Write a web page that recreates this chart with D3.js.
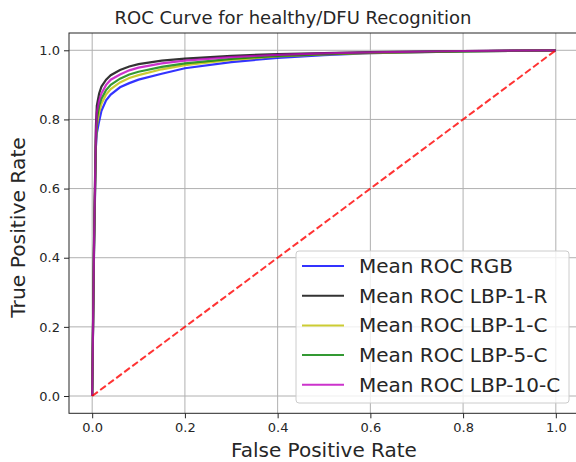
<!DOCTYPE html>
<html>
<head>
<meta charset="utf-8">
<script src="https://cdn.jsdelivr.net/npm/d3@7"></script>
<style>
  body { margin: 0; background: #fff; }
  svg { display: block; font-family: "DejaVu Sans", sans-serif; }
</style>
</head>
<body>
<svg id="chart" width="576" height="462"></svg>
<script>
// false positive rate grid shared by every curve
const fpr = [0, 0.004, 0.008, 0.01, 0.015, 0.02, 0.03, 0.04, 0.06, 0.08, 0.1, 0.15, 0.2, 0.3, 0.4, 0.5, 0.6, 0.8, 1.0]

const tprRGB    = [0, 0.42, 0.72, 0.76, 0.795, 0.825, 0.855, 0.872, 0.893, 0.905, 0.915, 0.932, 0.948, 0.966, 0.978, 0.986, 0.992, 0.997, 1]
const tprLBP1R  = [0, 0.45, 0.78, 0.84, 0.875, 0.895, 0.915, 0.928, 0.943, 0.953, 0.960, 0.970, 0.976, 0.984, 0.989, 0.992, 0.995, 0.998, 1]
const tprLBP1C  = [0, 0.43, 0.73, 0.78, 0.82, 0.845, 0.872, 0.888, 0.907, 0.92, 0.928, 0.945, 0.957, 0.972, 0.982, 0.988, 0.992, 0.997, 1]
const tprLBP5C  = [0, 0.43, 0.74, 0.80, 0.84, 0.86, 0.885, 0.90, 0.918, 0.93, 0.938, 0.952, 0.962, 0.975, 0.984, 0.989, 0.993, 0.997, 1]
const tprLBP10C = [0, 0.44, 0.76, 0.82, 0.855, 0.875, 0.90, 0.915, 0.930, 0.942, 0.950, 0.962, 0.970, 0.980, 0.987, 0.991, 0.994, 0.998, 1]

const seriesNames = ["Mean ROC RGB", "Mean ROC LBP-1-R", "Mean ROC LBP-1-C", "Mean ROC LBP-5-C", "Mean ROC LBP-10-C"]
const seriesColors = ["#0000ff", "#000000", "#bfbf00", "#008000", "#bf00bf"]
const seriesValues = [tprRGB, tprLBP1R, tprLBP1C, tprLBP5C, tprLBP10C]

const tickValues = [0, 0.2, 0.4, 0.6, 0.8, 1.0]
const chanceLine = [0, 1]

const margin = { left: 69, top: 33, right: 579, bottom: 413.3 }

const x = d3.scaleLinear().domain([-0.05, 1.05]).range([margin.left, margin.right])
const y = d3.scaleLinear().domain([-0.05, 1.05]).range([margin.bottom, margin.top])

const svg = d3.select("#chart")

// grid
const grid = svg.append("g")
grid.selectAll(".gx")
    .data(tickValues)
    .join("line")
    .attr("x1", d => x(d)).attr("x2", d => x(d))
    .attr("y1", margin.top).attr("y2", margin.bottom)
    .attr("stroke", "#b0b0b0").attr("stroke-width", 1)
grid.selectAll(".gy")
    .data(tickValues)
    .join("line")
    .attr("y1", d => y(d)).attr("y2", d => y(d))
    .attr("x1", margin.left).attr("x2", margin.right)
    .attr("stroke", "#b0b0b0").attr("stroke-width", 1)

// axes
svg.append("g")
    .attr("transform", `translate(0,${margin.bottom})`)
    .call(d3.axisBottom(x).tickValues(tickValues).tickFormat(d3.format(".1f")).tickSizeOuter(0).tickSize(5).tickPadding(4))
svg.append("g")
    .attr("transform", `translate(${margin.left},0)`)
    .call(d3.axisLeft(y).tickValues(tickValues).tickFormat(d3.format(".1f")).tickSizeOuter(0).tickSize(5).tickPadding(4))
svg.selectAll(".domain").remove()
svg.selectAll(".tick text").attr("font-size", 13).attr("fill", "#262626").attr("font-family", "DejaVu Sans")
svg.selectAll(".tick line").attr("stroke", "#262626")

const line = d3.line()
    .x(d => x(d[0]))
    .y(d => y(d[1]))

// curves
seriesValues.forEach((vals, i) => {
    svg.append("path")
        .datum(fpr.map((f, j) => [f, vals[j]]))
        .attr("d", line)
        .attr("fill", "none")
        .attr("stroke", seriesColors[i])
        .attr("stroke-opacity", 0.8)
        .attr("stroke-width", 2.2)
})

// chance line
svg.append("path")
    .datum(chanceLine.map(d => [d, d]))
    .attr("d", line)
    .attr("fill", "none")
    .attr("stroke", "#ff0000")
    .attr("stroke-opacity", 0.8)
    .attr("stroke-width", 2)
    .attr("stroke-dasharray", "7,3")

// frame
svg.append("rect")
    .attr("x", margin.left).attr("y", margin.top)
    .attr("width", margin.right - margin.left).attr("height", margin.bottom - margin.top)
    .attr("fill", "none").attr("stroke", "#262626").attr("stroke-width", 1)

// title and labels
svg.append("text")
    .attr("x", 293).attr("y", 24)
    .attr("text-anchor", "middle")
    .attr("font-size", 18).attr("fill", "#262626")
    .text("ROC Curve for healthy/DFU Recognition")
svg.append("text")
    .attr("x", 324).attr("y", 457)
    .attr("text-anchor", "middle")
    .attr("font-size", 20).attr("fill", "#262626")
    .text("False Positive Rate")
svg.append("text")
    .attr("transform", "translate(25,227.5) rotate(-90)")
    .attr("text-anchor", "middle")
    .attr("font-size", 20.3).attr("fill", "#262626")
    .text("True Positive Rate")

// legend
const legend = svg.append("g")
legend.append("rect")
    .attr("x", 296).attr("y", 251)
    .attr("width", 273).attr("height", 152)
    .attr("rx", 3)
    .attr("fill", "#ffffff").attr("fill-opacity", 0.8)
    .attr("stroke", "#cccccc")
seriesNames.forEach((name, i) => {
    const ly = 266 + i * 29.7
    legend.append("line")
        .attr("x1", 302).attr("x2", 344)
        .attr("y1", ly).attr("y2", ly)
        .attr("stroke", seriesColors[i]).attr("stroke-opacity", 0.8).attr("stroke-width", 2)
    legend.append("text")
        .attr("x", 359).attr("y", ly + 7)
        .attr("font-size", 20).attr("fill", "#262626")
        .text(name)
})
</script>
</body>
</html>
